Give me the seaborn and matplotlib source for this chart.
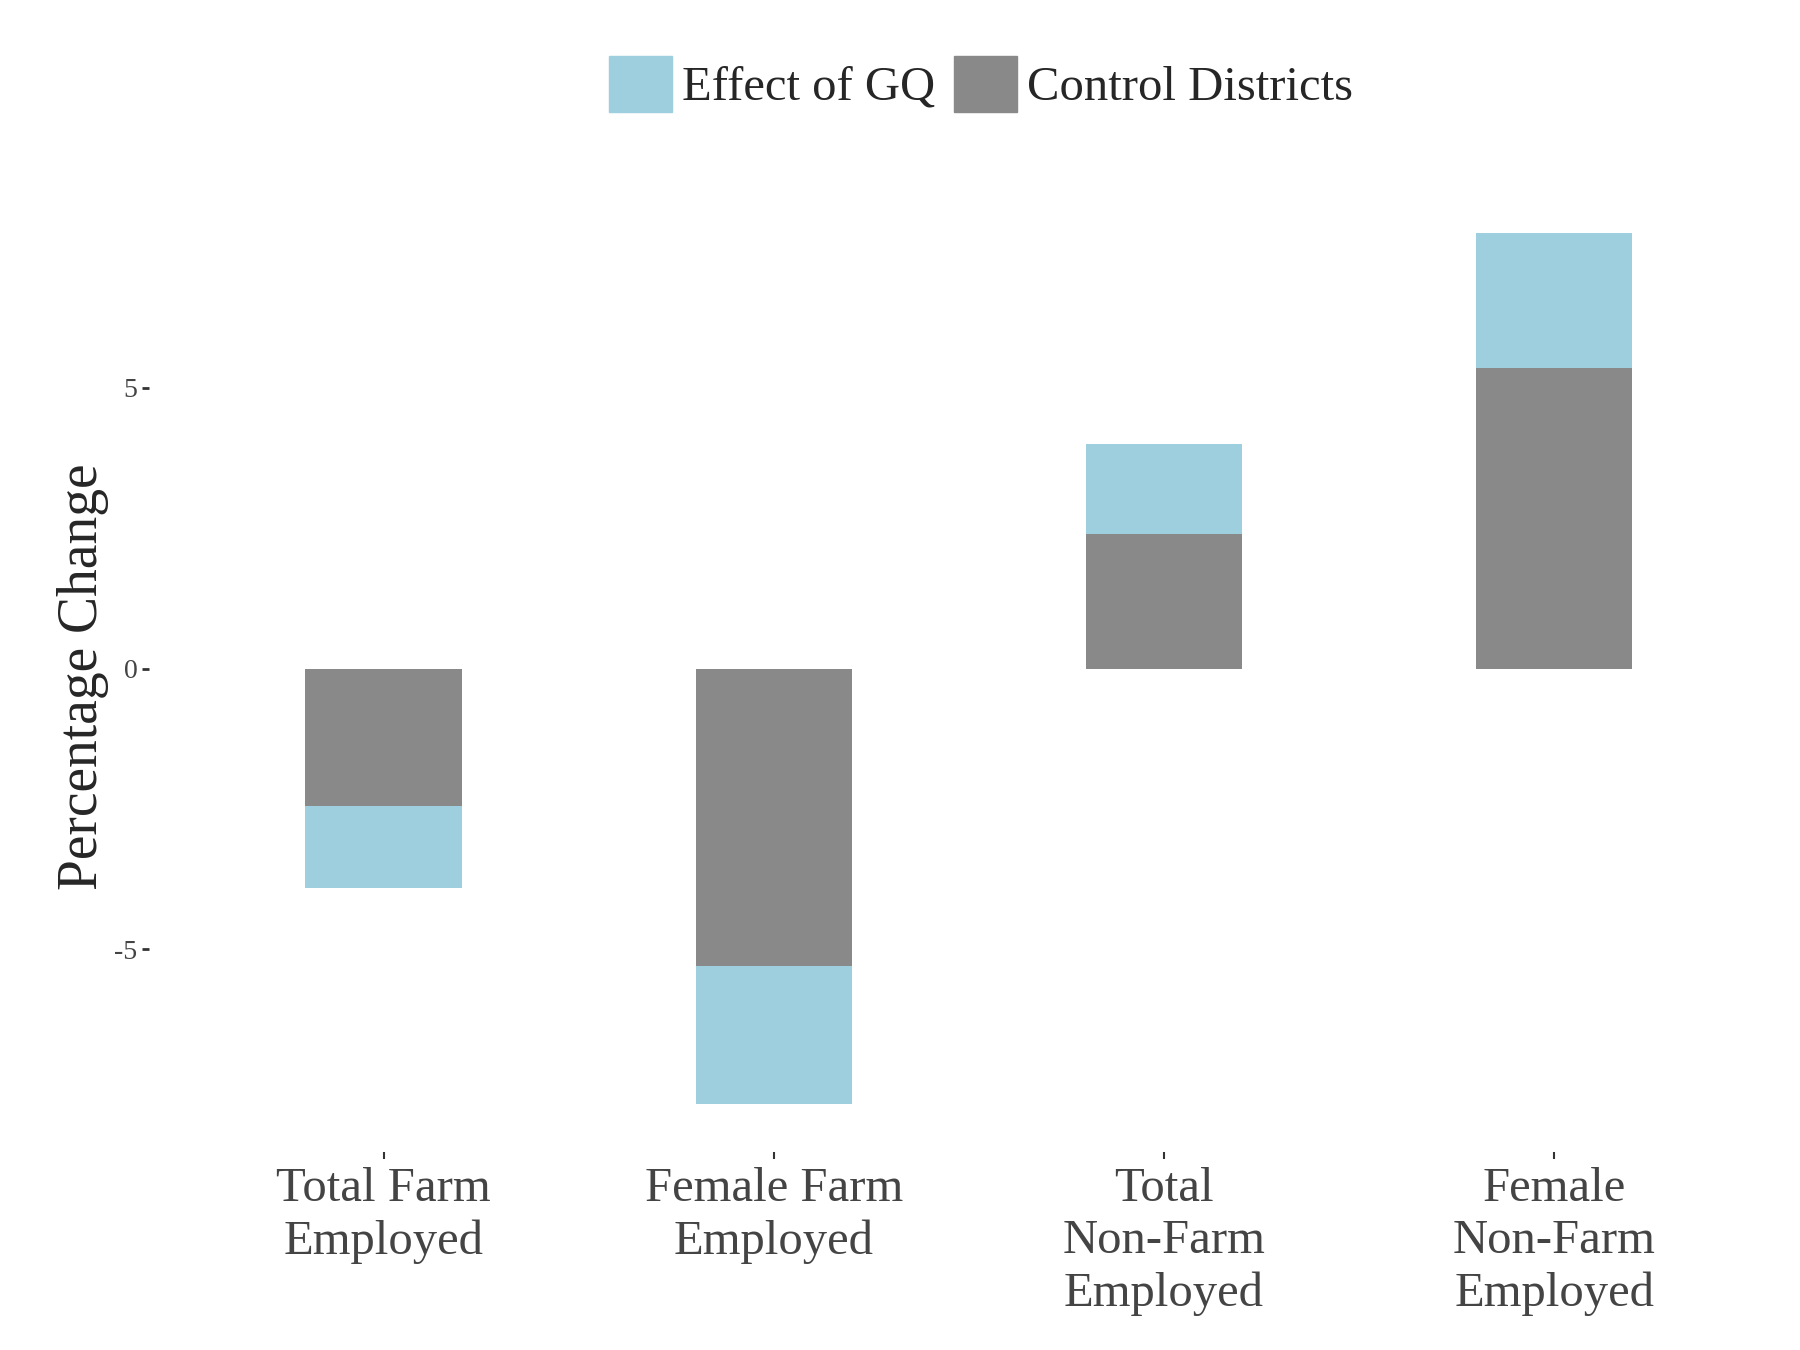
import pandas as pd
import matplotlib.pyplot as plt
import seaborn as sns
from matplotlib.patches import Patch

categories = ["Total Farm\nEmployed", "Female Farm\nEmployed",
              "Total\nNon-Farm\nEmployed", "Female\nNon-Farm\nEmployed"]
control = [-2.45, -5.3, 2.4, 5.35]
gq_effect = [-1.45, -2.45, 1.6, 2.4]
total = [c + g for c, g in zip(control, gq_effect)]

df = pd.DataFrame({"category": categories, "control": control, "total": total})

sns.set_style("white")
plt.rcParams["font.family"] = ["Liberation Serif", "DejaVu Serif"]

fig, ax = plt.subplots(figsize=(18, 13.5), dpi=100)
blue = "#9ecfdf"
grey = "#898989"
sns.barplot(data=df, x="category", y="total", color=blue, width=0.4,
            saturation=1, linewidth=0, ax=ax)
sns.barplot(data=df, x="category", y="control", color=grey, width=0.4,
            saturation=1, linewidth=0, ax=ax)

ax.set_ylim(-8.6, 8.3)
ax.set_xlim(-0.6, 3.63)
ax.set_yticks([-5, 0, 5])
ax.set_yticklabels(["-5", "0", "5"], fontsize=20, color="#444444")
ax.tick_params(axis="x", labelsize=35, labelcolor="#444444", length=5, width=1.5,
               pad=6, bottom=True, color="#333333")
ax.tick_params(axis="y", length=5, width=2, left=True, color="#333333")
for t in ax.get_xticklabels():
    t.set_linespacing(1.25)
ax.set_xlabel("")
ax.set_ylabel("Percentage Change", fontsize=40)
sns.despine(left=True, bottom=True)

handles = [Patch(color=blue, label="Effect of GQ"), Patch(color=grey, label="Control Districts")]
fig.legend(handles=handles, loc="center", bbox_to_anchor=(0.545, 0.938), ncol=2,
           frameon=False, fontsize=35, handlelength=1.3, handleheight=1.4,
           handletextpad=0.2, columnspacing=0.4)

plt.subplots_adjust(left=0.083, right=1.0, top=0.85, bottom=0.147)
plt.savefig("out.png")
